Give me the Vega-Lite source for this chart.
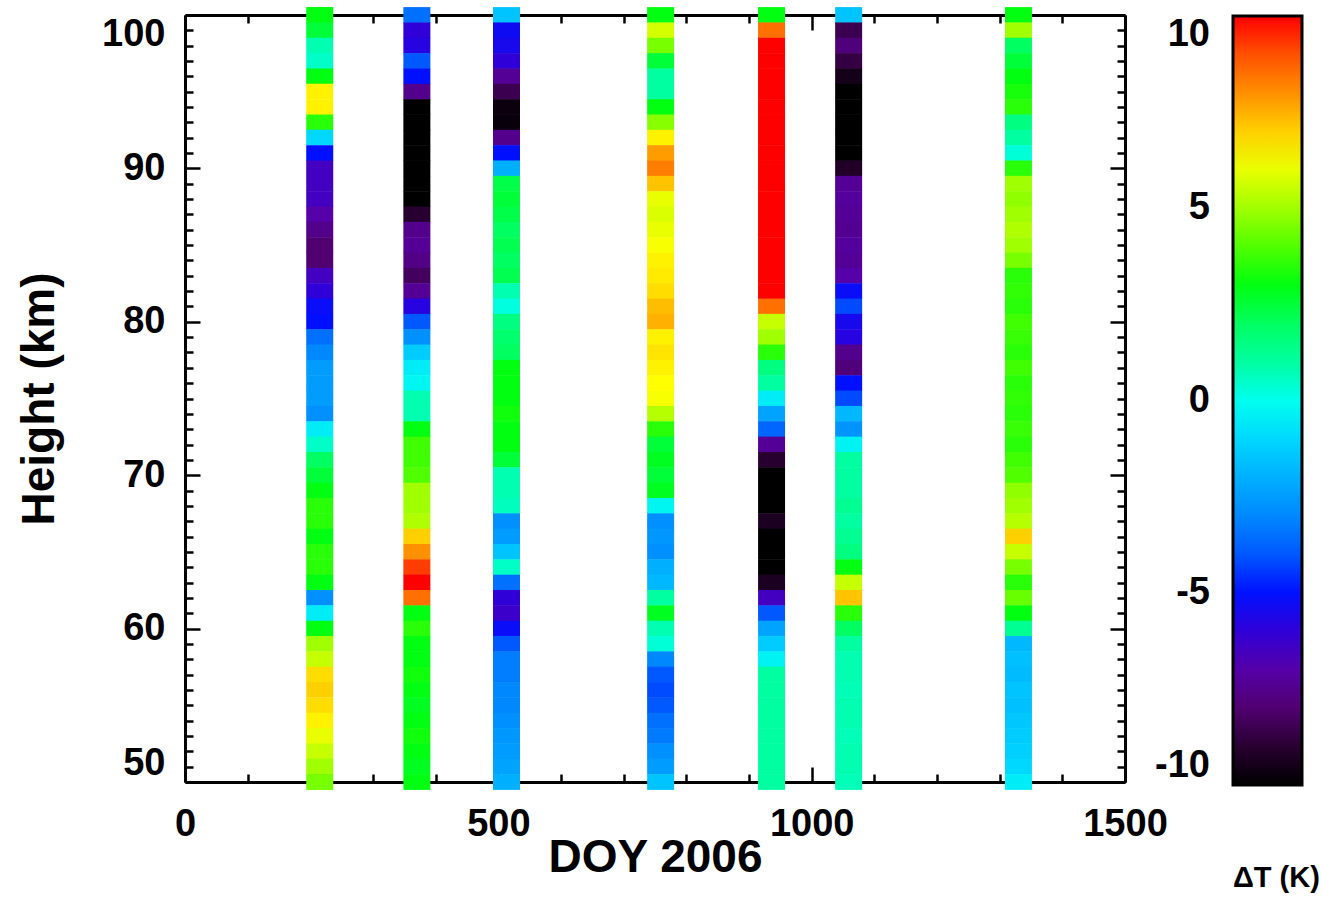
{
"$schema": "https://vega.github.io/schema/vega-lite/v6.json",
"width": 940, "height": 767,
"autosize": "none",
"padding": {"left": 185, "top": 15, "right": 197, "bottom": 123},
"background": "white",
"config": {
  "view": {"stroke": null},
  "axis": {"labelFont": "Liberation Sans", "labelFontWeight": "bold", "labelFontSize": 38, "labelColor": "black",
           "titleFont": "Liberation Sans", "titleFontWeight": "bold", "titleFontSize": 46, "titleColor": "black",
           "domainColor": "black", "domainWidth": 3, "tickColor": "black", "tickWidth": 2.5, "grid": false, "labelOverlap": false},
  "legend": {"labelAlign": "right"}
},
"data": {"values": [
{"d":215,"h":100,"t":3},{"d":215,"h":99,"t":2.5},{"d":215,"h":98,"t":0.8},{"d":215,"h":97,"t":0.5},{"d":215,"h":96,"t":3},{"d":215,"h":95,"t":6.5},{"d":215,"h":94,"t":6.5},{"d":215,"h":93,"t":3.5},{"d":215,"h":92,"t":-1},{"d":215,"h":91,"t":-5},{"d":215,"h":90,"t":-6.5},{"d":215,"h":89,"t":-6.5},{"d":215,"h":88,"t":-6.5},{"d":215,"h":87,"t":-7},{"d":215,"h":86,"t":-7.5},{"d":215,"h":85,"t":-8},{"d":215,"h":84,"t":-8},{"d":215,"h":83,"t":-6.5},{"d":215,"h":82,"t":-6},{"d":215,"h":81,"t":-5.2},{"d":215,"h":80,"t":-5},{"d":215,"h":79,"t":-3.5},{"d":215,"h":78,"t":-3},{"d":215,"h":77,"t":-2.5},{"d":215,"h":76,"t":-2.5},{"d":215,"h":75,"t":-2.5},{"d":215,"h":74,"t":-2.8},{"d":215,"h":73,"t":-0.5},{"d":215,"h":72,"t":0.5},{"d":215,"h":71,"t":2},{"d":215,"h":70,"t":2.5},{"d":215,"h":69,"t":3},{"d":215,"h":68,"t":3.5},{"d":215,"h":67,"t":3.5},{"d":215,"h":66,"t":3},{"d":215,"h":65,"t":3.5},{"d":215,"h":64,"t":3.5},{"d":215,"h":63,"t":3},{"d":215,"h":62,"t":-2.8},{"d":215,"h":61,"t":-0.5},{"d":215,"h":60,"t":3},{"d":215,"h":59,"t":5},{"d":215,"h":58,"t":5.5},{"d":215,"h":57,"t":6.8},{"d":215,"h":56,"t":7},{"d":215,"h":55,"t":6.8},{"d":215,"h":54,"t":6.5},{"d":215,"h":53,"t":6},{"d":215,"h":52,"t":5.5},{"d":215,"h":51,"t":5},{"d":215,"h":50,"t":4.5},
{"d":370,"h":100,"t":-3.5},{"d":370,"h":99,"t":-6},{"d":370,"h":98,"t":-5.8},{"d":370,"h":97,"t":-4},{"d":370,"h":96,"t":-5},{"d":370,"h":95,"t":-7.5},{"d":370,"h":94,"t":-10},{"d":370,"h":93,"t":-10},{"d":370,"h":92,"t":-10},{"d":370,"h":91,"t":-10},{"d":370,"h":90,"t":-10},{"d":370,"h":89,"t":-10},{"d":370,"h":88,"t":-10},{"d":370,"h":87,"t":-9},{"d":370,"h":86,"t":-7.5},{"d":370,"h":85,"t":-7.3},{"d":370,"h":84,"t":-7.6},{"d":370,"h":83,"t":-8.3},{"d":370,"h":82,"t":-7.3},{"d":370,"h":81,"t":-5.8},{"d":370,"h":80,"t":-4},{"d":370,"h":79,"t":-2.8},{"d":370,"h":78,"t":-1.3},{"d":370,"h":77,"t":-0.5},{"d":370,"h":76,"t":-0.2},{"d":370,"h":75,"t":0.8},{"d":370,"h":74,"t":0.8},{"d":370,"h":73,"t":3},{"d":370,"h":72,"t":3.8},{"d":370,"h":71,"t":3.8},{"d":370,"h":70,"t":4},{"d":370,"h":69,"t":5},{"d":370,"h":68,"t":5},{"d":370,"h":67,"t":5.2},{"d":370,"h":66,"t":7},{"d":370,"h":65,"t":8},{"d":370,"h":64,"t":9.3},{"d":370,"h":63,"t":10},{"d":370,"h":62,"t":8.5},{"d":370,"h":61,"t":3},{"d":370,"h":60,"t":3.5},{"d":370,"h":59,"t":3},{"d":370,"h":58,"t":3},{"d":370,"h":57,"t":3.2},{"d":370,"h":56,"t":3},{"d":370,"h":55,"t":2.8},{"d":370,"h":54,"t":3},{"d":370,"h":53,"t":3.2},{"d":370,"h":52,"t":3},{"d":370,"h":51,"t":2.8},{"d":370,"h":50,"t":3},
{"d":513,"h":100,"t":-1.5},{"d":513,"h":99,"t":-5.3},{"d":513,"h":98,"t":-5.5},{"d":513,"h":97,"t":-6},{"d":513,"h":96,"t":-7.3},{"d":513,"h":95,"t":-8.5},{"d":513,"h":94,"t":-9.7},{"d":513,"h":93,"t":-9.8},{"d":513,"h":92,"t":-7.5},{"d":513,"h":91,"t":-5},{"d":513,"h":90,"t":-2},{"d":513,"h":89,"t":2.3},{"d":513,"h":88,"t":2.5},{"d":513,"h":87,"t":2.3},{"d":513,"h":86,"t":2},{"d":513,"h":85,"t":2.2},{"d":513,"h":84,"t":2},{"d":513,"h":83,"t":2.2},{"d":513,"h":82,"t":0.8},{"d":513,"h":81,"t":0.2},{"d":513,"h":80,"t":1.5},{"d":513,"h":79,"t":1.8},{"d":513,"h":78,"t":2},{"d":513,"h":77,"t":3},{"d":513,"h":76,"t":3},{"d":513,"h":75,"t":3},{"d":513,"h":74,"t":3.2},{"d":513,"h":73,"t":3},{"d":513,"h":72,"t":3},{"d":513,"h":71,"t":2.5},{"d":513,"h":70,"t":0.8},{"d":513,"h":69,"t":0.8},{"d":513,"h":68,"t":0.6},{"d":513,"h":67,"t":-2.8},{"d":513,"h":66,"t":-2.5},{"d":513,"h":65,"t":-1.5},{"d":513,"h":64,"t":0.5},{"d":513,"h":63,"t":-3.5},{"d":513,"h":62,"t":-6},{"d":513,"h":61,"t":-6.3},{"d":513,"h":60,"t":-5.2},{"d":513,"h":59,"t":-4},{"d":513,"h":58,"t":-3.2},{"d":513,"h":57,"t":-3.2},{"d":513,"h":56,"t":-3},{"d":513,"h":55,"t":-3},{"d":513,"h":54,"t":-2.8},{"d":513,"h":53,"t":-2.6},{"d":513,"h":52,"t":-2.5},{"d":513,"h":51,"t":-2.3},{"d":513,"h":50,"t":-2},
{"d":759,"h":100,"t":3},{"d":759,"h":99,"t":5.7},{"d":759,"h":98,"t":4.5},{"d":759,"h":97,"t":2.5},{"d":759,"h":96,"t":1},{"d":759,"h":95,"t":1},{"d":759,"h":94,"t":3},{"d":759,"h":93,"t":4.7},{"d":759,"h":92,"t":6.5},{"d":759,"h":91,"t":7.8},{"d":759,"h":90,"t":8.3},{"d":759,"h":89,"t":7.2},{"d":759,"h":88,"t":6},{"d":759,"h":87,"t":5.8},{"d":759,"h":86,"t":6},{"d":759,"h":85,"t":6.2},{"d":759,"h":84,"t":6.5},{"d":759,"h":83,"t":6.6},{"d":759,"h":82,"t":6.8},{"d":759,"h":81,"t":7.3},{"d":759,"h":80,"t":7.5},{"d":759,"h":79,"t":6.5},{"d":759,"h":78,"t":6.7},{"d":759,"h":77,"t":6.5},{"d":759,"h":76,"t":6.3},{"d":759,"h":75,"t":6.2},{"d":759,"h":74,"t":5.3},{"d":759,"h":73,"t":3.5},{"d":759,"h":72,"t":2.5},{"d":759,"h":71,"t":2.8},{"d":759,"h":70,"t":2.5},{"d":759,"h":69,"t":2.8},{"d":759,"h":68,"t":-0.2},{"d":759,"h":67,"t":-2.8},{"d":759,"h":66,"t":-2.6},{"d":759,"h":65,"t":-2.8},{"d":759,"h":64,"t":-2},{"d":759,"h":63,"t":-1.8},{"d":759,"h":62,"t":1},{"d":759,"h":61,"t":2.8},{"d":759,"h":60,"t":0.8},{"d":759,"h":59,"t":0.3},{"d":759,"h":58,"t":-3},{"d":759,"h":57,"t":-4},{"d":759,"h":56,"t":-4.2},{"d":759,"h":55,"t":-4},{"d":759,"h":54,"t":-3.5},{"d":759,"h":53,"t":-3.3},{"d":759,"h":52,"t":-2.8},{"d":759,"h":51,"t":-2.5},{"d":759,"h":50,"t":-1.5},
{"d":936,"h":100,"t":3},{"d":936,"h":99,"t":8.5},{"d":936,"h":98,"t":10},{"d":936,"h":97,"t":10},{"d":936,"h":96,"t":10},{"d":936,"h":95,"t":10},{"d":936,"h":94,"t":10},{"d":936,"h":93,"t":10},{"d":936,"h":92,"t":10},{"d":936,"h":91,"t":10},{"d":936,"h":90,"t":10},{"d":936,"h":89,"t":10},{"d":936,"h":88,"t":10},{"d":936,"h":87,"t":10},{"d":936,"h":86,"t":10},{"d":936,"h":85,"t":10},{"d":936,"h":84,"t":10},{"d":936,"h":83,"t":10},{"d":936,"h":82,"t":10},{"d":936,"h":81,"t":8.5},{"d":936,"h":80,"t":5.5},{"d":936,"h":79,"t":5},{"d":936,"h":78,"t":3.5},{"d":936,"h":77,"t":1.5},{"d":936,"h":76,"t":1},{"d":936,"h":75,"t":-0.5},{"d":936,"h":74,"t":-2.3},{"d":936,"h":73,"t":-3.7},{"d":936,"h":72,"t":-7.3},{"d":936,"h":71,"t":-9},{"d":936,"h":70,"t":-10},{"d":936,"h":69,"t":-10},{"d":936,"h":68,"t":-10},{"d":936,"h":67,"t":-9.3},{"d":936,"h":66,"t":-10},{"d":936,"h":65,"t":-10},{"d":936,"h":64,"t":-10},{"d":936,"h":63,"t":-9.3},{"d":936,"h":62,"t":-6.5},{"d":936,"h":61,"t":-4},{"d":936,"h":60,"t":-2.3},{"d":936,"h":59,"t":-1.3},{"d":936,"h":58,"t":-0.3},{"d":936,"h":57,"t":1},{"d":936,"h":56,"t":1},{"d":936,"h":55,"t":1},{"d":936,"h":54,"t":1},{"d":936,"h":53,"t":1},{"d":936,"h":52,"t":1},{"d":936,"h":51,"t":1},{"d":936,"h":50,"t":1},
{"d":1059,"h":100,"t":-1.5},{"d":1059,"h":99,"t":-8.5},{"d":1059,"h":98,"t":-7.8},{"d":1059,"h":97,"t":-8.7},{"d":1059,"h":96,"t":-9.5},{"d":1059,"h":95,"t":-10},{"d":1059,"h":94,"t":-10},{"d":1059,"h":93,"t":-10},{"d":1059,"h":92,"t":-10},{"d":1059,"h":91,"t":-10},{"d":1059,"h":90,"t":-9.2},{"d":1059,"h":89,"t":-7.3},{"d":1059,"h":88,"t":-7.2},{"d":1059,"h":87,"t":-7.3},{"d":1059,"h":86,"t":-7.4},{"d":1059,"h":85,"t":-7.2},{"d":1059,"h":84,"t":-7.3},{"d":1059,"h":83,"t":-7},{"d":1059,"h":82,"t":-5.2},{"d":1059,"h":81,"t":-4.2},{"d":1059,"h":80,"t":-5.5},{"d":1059,"h":79,"t":-5.8},{"d":1059,"h":78,"t":-7.5},{"d":1059,"h":77,"t":-7.8},{"d":1059,"h":76,"t":-5},{"d":1059,"h":75,"t":-4.2},{"d":1059,"h":74,"t":-1.8},{"d":1059,"h":73,"t":-2.7},{"d":1059,"h":72,"t":-0.3},{"d":1059,"h":71,"t":1},{"d":1059,"h":70,"t":1},{"d":1059,"h":69,"t":1},{"d":1059,"h":68,"t":1.2},{"d":1059,"h":67,"t":1},{"d":1059,"h":66,"t":1.2},{"d":1059,"h":65,"t":1.5},{"d":1059,"h":64,"t":3},{"d":1059,"h":63,"t":5.5},{"d":1059,"h":62,"t":7.2},{"d":1059,"h":61,"t":3.5},{"d":1059,"h":60,"t":2},{"d":1059,"h":59,"t":1},{"d":1059,"h":58,"t":0.8},{"d":1059,"h":57,"t":0.8},{"d":1059,"h":56,"t":0.7},{"d":1059,"h":55,"t":0.8},{"d":1059,"h":54,"t":0.8},{"d":1059,"h":53,"t":0.7},{"d":1059,"h":52,"t":0.8},{"d":1059,"h":51,"t":0.8},{"d":1059,"h":50,"t":0.7},
{"d":1330,"h":100,"t":3},{"d":1330,"h":99,"t":5},{"d":1330,"h":98,"t":2},{"d":1330,"h":97,"t":2.5},{"d":1330,"h":96,"t":3},{"d":1330,"h":95,"t":3.3},{"d":1330,"h":94,"t":3.5},{"d":1330,"h":93,"t":1.5},{"d":1330,"h":92,"t":1},{"d":1330,"h":91,"t":0.3},{"d":1330,"h":90,"t":3.5},{"d":1330,"h":89,"t":5},{"d":1330,"h":88,"t":4.8},{"d":1330,"h":87,"t":5},{"d":1330,"h":86,"t":5.2},{"d":1330,"h":85,"t":5},{"d":1330,"h":84,"t":4.5},{"d":1330,"h":83,"t":3.5},{"d":1330,"h":82,"t":3.6},{"d":1330,"h":81,"t":3.5},{"d":1330,"h":80,"t":3.8},{"d":1330,"h":79,"t":3.7},{"d":1330,"h":78,"t":3.5},{"d":1330,"h":77,"t":3.8},{"d":1330,"h":76,"t":3.5},{"d":1330,"h":75,"t":3.6},{"d":1330,"h":74,"t":3.5},{"d":1330,"h":73,"t":3.7},{"d":1330,"h":72,"t":3.5},{"d":1330,"h":71,"t":3.8},{"d":1330,"h":70,"t":4},{"d":1330,"h":69,"t":4.8},{"d":1330,"h":68,"t":5},{"d":1330,"h":67,"t":5.3},{"d":1330,"h":66,"t":7},{"d":1330,"h":65,"t":5.5},{"d":1330,"h":64,"t":4.5},{"d":1330,"h":63,"t":3.5},{"d":1330,"h":62,"t":4.3},{"d":1330,"h":61,"t":3},{"d":1330,"h":60,"t":1.2},{"d":1330,"h":59,"t":-1.8},{"d":1330,"h":58,"t":-1.6},{"d":1330,"h":57,"t":-1.7},{"d":1330,"h":56,"t":-1.5},{"d":1330,"h":55,"t":-1.6},{"d":1330,"h":54,"t":-1.4},{"d":1330,"h":53,"t":-1.3},{"d":1330,"h":52,"t":-1.2},{"d":1330,"h":51,"t":-1},{"d":1330,"h":50,"t":-0.5}
]},
"layer": [
  {
    "mark": {"type": "tick", "orient": "horizontal", "size": 27, "thickness": 15.8, "opacity": 1},
    "encoding": {
      "x": {"field": "d", "type": "quantitative", "scale": {"domain": [0, 1500], "nice": false, "zero": false},
            "axis": {"orient": "bottom", "values": [0, 500, 1000, 1500], "format": "d", "tickSize": -15, "labelPadding": 38, "title": "DOY 2006", "titlePadding": -8, "labelFlush": false}},
      "y": {"field": "h", "type": "quantitative", "scale": {"domain": [50, 100], "nice": false, "zero": false},
            "axis": {"orient": "left", "values": [50, 60, 70, 80, 90, 100], "format": "d", "tickSize": -15, "labelPadding": 35, "labelFlush": true, "title": "Height (km)", "titlePadding": 38}},
      "color": {"field": "t", "type": "quantitative",
        "scale": {"domain": [-10, -9, -8, -7, -6, -5, -4, -3, -2, -1, 0, 1, 2, 3, 4, 5, 6.3, 7, 8, 9, 9.5, 10],
                  "range": ["#000000", "#280030", "#500070", "#5500a8", "#3000d8", "#0010ff", "#0058ff", "#0088ff", "#00b0ff", "#00d8ff", "#00ffee", "#00ffa0", "#00ff60", "#00ff10", "#50ff00", "#a0ff00", "#ffff00", "#ffd000", "#ff9000", "#ff5000", "#ff3000", "#ff0000"],
                  "clamp": true, "interpolate": "rgb"},
        "legend": {"type": "gradient", "orient": "none", "legendX": 1048, "legendY": 1, "direction": "vertical",
                   "gradientLength": 769, "gradientThickness": 69, "gradientStrokeColor": "black", "gradientStrokeWidth": 3,
                   "values": [-10, -5, 0, 5, 10], "labelExpr": "toString(datum.value)",
                   "labelFont": "Liberation Sans", "labelFontWeight": "bold", "labelFontSize": 38, "labelColor": "black",
                   "labelAlign": "right", "labelOffset": -92, "labelOverlap": false,
                   "encoding": {"labels": {"align": {"value": "right"}}},
                   "title": "ΔT (K)", "titleOrient": "bottom", "titleFont": "Liberation Sans", "titleFontWeight": "bold", "titleFontSize": 29, "titleColor": "black", "titlePadding": 77}}
    }
  },
  {
    "mark": {"type": "tick", "orient": "horizontal", "opacity": 0},
    "encoding": {
      "x": {"field": "d", "type": "quantitative", "scale": {"domain": [0, 1500], "nice": false, "zero": false},
            "axis": {"orient": "top", "values": [0, 500, 1000, 1500], "tickSize": -15, "labels": false, "title": null}},
      "y": {"field": "h", "type": "quantitative", "scale": {"domain": [50, 100], "nice": false, "zero": false},
            "axis": {"orient": "right", "values": [50, 60, 70, 80, 90, 100], "tickSize": -15, "labels": false, "title": null}}
    }
  },
  {
    "mark": {"type": "tick", "orient": "horizontal", "opacity": 0},
    "encoding": {
      "x": {"field": "d", "type": "quantitative", "scale": {"domain": [0, 1500], "nice": false, "zero": false},
            "axis": {"orient": "bottom", "values": [100, 200, 300, 400, 600, 700, 800, 900, 1100, 1200, 1300, 1400], "tickSize": -8, "labels": false, "domain": false, "title": null}},
      "y": {"field": "h", "type": "quantitative", "scale": {"domain": [50, 100], "nice": false, "zero": false},
            "axis": {"orient": "left", "values": [51,52,53,54,55,56,57,58,59,61,62,63,64,65,66,67,68,69,71,72,73,74,75,76,77,78,79,81,82,83,84,85,86,87,88,89,91,92,93,94,95,96,97,98,99], "tickSize": -8, "labels": false, "domain": false, "title": null}}
    }
  },
  {
    "mark": {"type": "tick", "orient": "horizontal", "opacity": 0},
    "encoding": {
      "x": {"field": "d", "type": "quantitative", "scale": {"domain": [0, 1500], "nice": false, "zero": false},
            "axis": {"orient": "top", "values": [100, 200, 300, 400, 600, 700, 800, 900, 1100, 1200, 1300, 1400], "tickSize": -8, "labels": false, "domain": false, "title": null}},
      "y": {"field": "h", "type": "quantitative", "scale": {"domain": [50, 100], "nice": false, "zero": false},
            "axis": {"orient": "right", "values": [51,52,53,54,55,56,57,58,59,61,62,63,64,65,66,67,68,69,71,72,73,74,75,76,77,78,79,81,82,83,84,85,86,87,88,89,91,92,93,94,95,96,97,98,99], "tickSize": -8, "labels": false, "domain": false, "title": null}}
    }
  }
],
"resolve": {"axis": {"x": "independent", "y": "independent"}}
}
